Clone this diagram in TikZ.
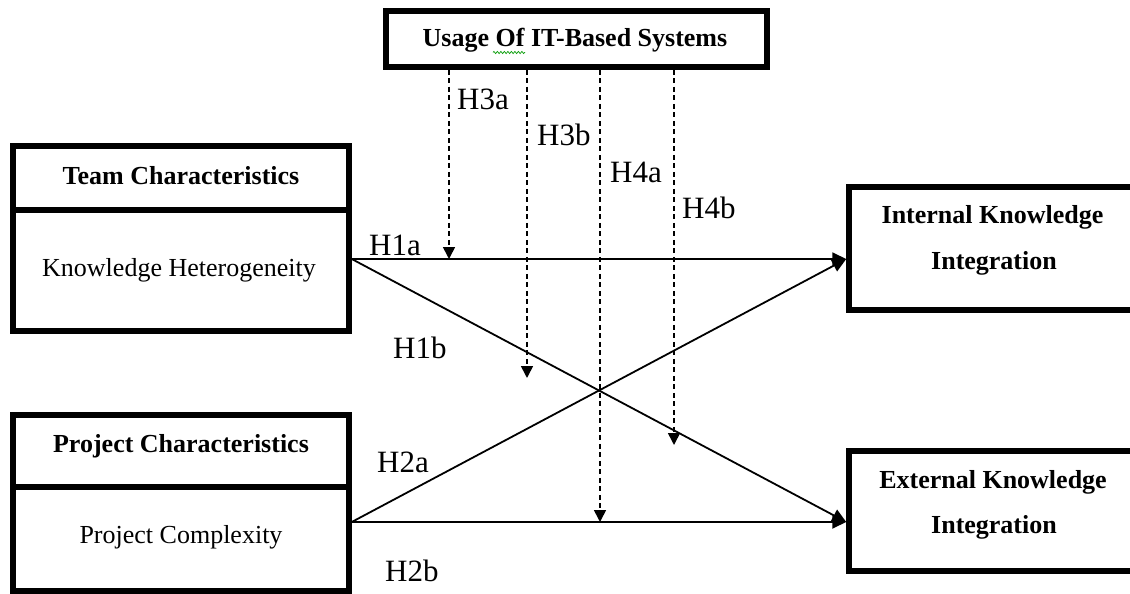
\documentclass[tikz,border=0pt]{standalone}
\usepackage{fontspec}
\setmainfont{Liberation Serif}
\usetikzlibrary{arrows.meta,decorations.pathmorphing}
\begin{document}
\begin{tikzpicture}[x=1pt,y=-1pt,
  box/.style={draw, line width=5.5pt, inner sep=0pt},
  hd/.style={font=\bfseries\fontsize{26}{30}\selectfont, anchor=base, inner sep=0pt},
  bd/.style={font=\fontsize{26}{30}\selectfont, anchor=base, inner sep=0pt},
  hlab/.style={font=\fontsize{31}{34}\selectfont, anchor=base west, inner sep=0pt},
  conn/.style={line width=1.8pt, -{Triangle[length=14pt,width=13pt]}},
  dasharrow/.style={line width=1.6pt, dash pattern=on 5pt off 3.5pt, -{Triangle[length=12pt,width=12pt]}}
]
\useasboundingbox (0,0) rectangle (1130,594);
% boxes
\node[box, minimum width=381pt, minimum height=56pt] (it) at (576.5,39) {};
\node[box, minimum width=336pt, minimum height=64pt] (th) at (181,178) {};
\node[box, minimum width=336pt, minimum height=121pt] (kb) at (181,270.5) {};
\node[box, minimum width=336pt, minimum height=72pt] (ph) at (181,451) {};
\node[box, minimum width=336pt, minimum height=104pt] (pb) at (181,539) {};
\node[box, minimum width=296pt, minimum height=123pt] (ik) at (997,248.5) {};
\node[box, minimum width=296pt, minimum height=120pt] (ek) at (997,511) {};
% texts
\node[hd] (t1) at (575,47) {Usage Of IT-Based Systems};
\draw[green!60!black, line width=0.7pt, decorate, decoration={zigzag, segment length=3.5pt, amplitude=1.1pt}] (493,52.5) -- (525,52.5);
\node[hd] (t2) at (181,184) {Team Characteristics};
\node[bd] (t3) at (179,276) {Knowledge Heterogeneity};
\node[hd] (t4) at (181,452) {Project Characteristics};
\node[bd] (t5) at (181,543) {Project Complexity};
\node[hd] (t6) at (992.5,223) {Internal Knowledge};
\node[hd] (t7) at (994,269) {Integration};
\node[hd] (t8) at (993,488) {External Knowledge};
\node[hd] (t9) at (994,533) {Integration};
% connectors
\coordinate (kho) at ([yshift=11.5pt]kb.east);
\coordinate (pco) at ([yshift=17pt]pb.east);
\coordinate (iki) at ([yshift=-10.5pt]ik.west);
\coordinate (eki) at ([yshift=-11pt]ek.west);
\draw[conn] (kho) -- (iki);
\draw[conn] (kho) -- (eki);
\draw[conn] (pco) -- (iki);
\draw[conn] (pco) -- (eki);
% moderating dashed arrows
\coordinate (e1) at (449,259);
\coordinate (e2) at (527,378);
\coordinate (e3) at (600,522);
\coordinate (e4) at (674,445);
\draw[dasharrow] (it.south -| e1) -- (e1);
\draw[dasharrow] (it.south -| e2) -- (e2);
\draw[dasharrow] (it.south -| e3) -- (e3);
\draw[dasharrow] (it.south -| e4) -- (e4);
% labels
\node[hlab] (l1) at (457,109) {H3a};
\node[hlab] (l2) at (537,145) {H3b};
\node[hlab] (l3) at (610,182) {H4a};
\node[hlab] (l4) at (682,218) {H4b};
\node[hlab] (l5) at (369,255) {H1a};
\node[hlab] (l6) at (393,358) {H1b};
\node[hlab] (l7) at (377,472) {H2a};
\node[hlab] (l8) at (385,581) {H2b};
\end{tikzpicture}
\end{document}
